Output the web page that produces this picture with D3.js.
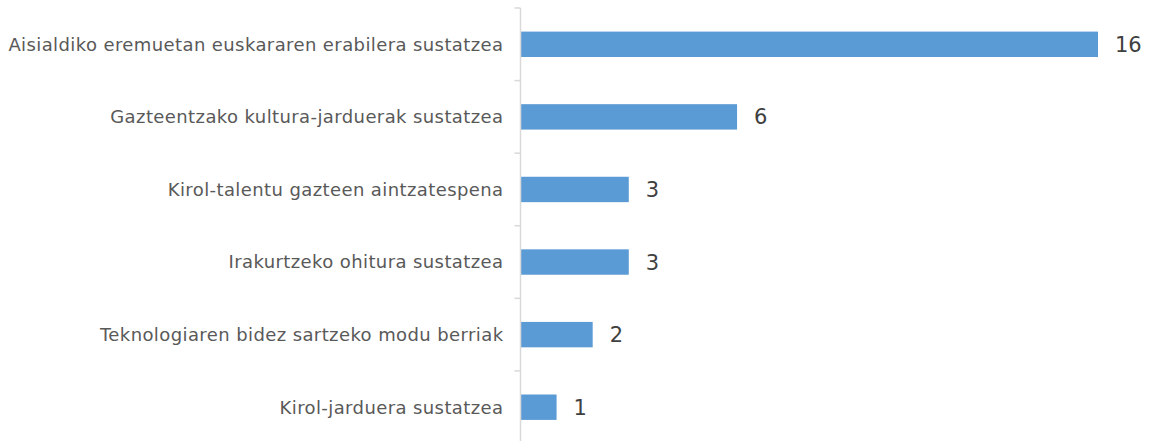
<!DOCTYPE html>
<html>
<head>
<meta charset="utf-8">
<script src="https://cdn.jsdelivr.net/npm/d3@7"></script>
<style>
  body { margin: 0; background: #fff; }
  svg { display: block; font-family: 'DejaVu Sans', Verdana, sans-serif; }
</style>
</head>
<body>
<svg id="chart" width="1150" height="441"></svg>
<script>
const categories = [
  'Aisialdiko eremuetan euskararen erabilera sustatzea',
  'Gazteentzako kultura-jarduerak sustatzea',
  'Kirol-talentu gazteen aintzatespena',
  'Irakurtzeko ohitura sustatzea',
  'Teknologiaren bidez sartzeko modu berriak',
  'Kirol-jarduera sustatzea'
]
const values = [16, 6, 3, 3, 2, 1]

const axisX = 520.5
const plotTop = 8
const plotBottom = 443.5

const svg = d3.select('#chart')

const x = d3.scaleLinear().domain([0, 16]).range([axisX, 1098])
const y = d3.scaleBand().domain(categories).range([plotTop, plotBottom]).paddingInner(0.65).paddingOuter(0.325)
const yTicks = d3.scaleBand().domain(categories).range([plotTop, plotBottom])

// category boundary ticks
svg.append('g')
  .selectAll('line')
  .data(categories)
  .join('line')
  .attr('x1', axisX - 6)
  .attr('x2', axisX)
  .attr('y1', (d) => yTicks(d))
  .attr('y2', (d) => yTicks(d))
  .attr('stroke', '#d9d9d9')
  .attr('stroke-width', 1.5)

svg.append('g')
  .selectAll('rect')
  .data(values)
  .join('rect')
  .attr('x', axisX)
  .attr('y', (d, i) => y(categories[i]))
  .attr('width', (d) => x(d) - axisX)
  .attr('height', y.bandwidth())
  .attr('fill', '#5b9bd5')

svg.append('line')
  .attr('x1', axisX)
  .attr('x2', axisX)
  .attr('y1', plotTop)
  .attr('y2', plotBottom)
  .attr('stroke', '#d9d9d9')
  .attr('stroke-width', 1.5)

svg.append('g')
  .selectAll('text')
  .data(categories)
  .join('text')
  .attr('x', axisX - 17)
  .attr('y', (d) => y(d) + y.bandwidth() / 2)
  .attr('dy', '0.35em')
  .attr('text-anchor', 'end')
  .attr('font-size', 18)
  .attr('letter-spacing', 0.4)
  .attr('fill', '#595959')
  .text((d) => d)

svg.append('g')
  .selectAll('text')
  .data(values)
  .join('text')
  .attr('x', (d) => x(d) + 17)
  .attr('y', (d, i) => y(categories[i]) + y.bandwidth() / 2)
  .attr('dy', '0.36em')
  .attr('font-size', 21)
  .attr('fill', '#404040')
  .text((d) => d)
</script>
</body>
</html>
